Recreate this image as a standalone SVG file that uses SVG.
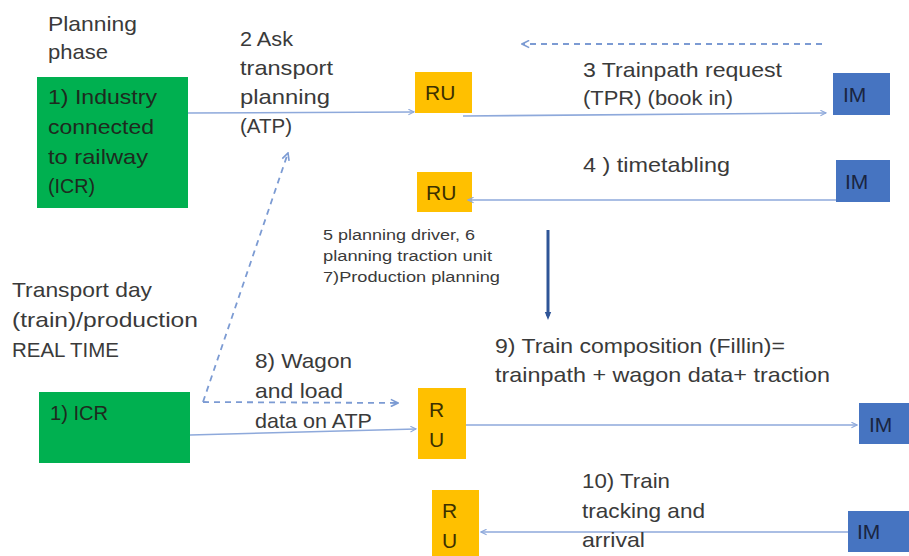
<svg xmlns="http://www.w3.org/2000/svg" width="909" height="556" viewBox="0 0 909 556">
  <defs>
    <style>
      text { font-family: "Liberation Sans", Arial, sans-serif; fill: #3a3a3a; }
      .lbl { font-size: 21px; }
      .sm { font-size: 15.5px; }
      .box-txt { font-size: 21px; fill: #1e2a1e; }
      .ru { fill: #FFC000; }
      .ru-txt { font-size: 21px; fill: #3d3000; }
      .im { fill: #4674C1; }
      .im-txt { font-size: 21px; fill: #1a2540; }
      .icr { fill: #00B050; }
      .flow { stroke: #8EA9DB; stroke-width: 1.6; fill: none; marker-end: url(#open); }
      .dash { stroke: #7C9BD3; stroke-width: 1.8; fill: none; stroke-dasharray: 6 5; }
    </style>
    <marker id="open" viewBox="0 0 10 10" refX="9" refY="5" markerWidth="7" markerHeight="7" orient="auto" markerUnits="userSpaceOnUse">
      <path d="M1 1 L9 5 L1 9" fill="none" stroke="#8EA9DB" stroke-width="1.6"/>
    </marker>
    <marker id="openDash" viewBox="0 0 10 10" refX="9" refY="5" markerWidth="9" markerHeight="9" orient="auto" markerUnits="userSpaceOnUse">
      <path d="M1 1 L9 5 L1 9" fill="none" stroke="#7C9BD3" stroke-width="1.8"/>
    </marker>
    <marker id="solid" viewBox="0 0 10 10" refX="5" refY="5" markerWidth="10" markerHeight="8" orient="auto" markerUnits="userSpaceOnUse">
      <path d="M0 1 L10 5 L0 9 Z" fill="#2F5597"/>
    </marker>
  </defs>

  <rect width="909" height="556" fill="#ffffff"/>

  <!-- phase headings -->
  <g id="heading-planning">
    <text class="lbl" x="48" y="31" textLength="89" lengthAdjust="spacingAndGlyphs">Planning</text>
    <text class="lbl" x="48" y="59" textLength="60" lengthAdjust="spacingAndGlyphs">phase</text>
  </g>
  <g id="heading-transport">
    <text class="lbl" x="12" y="297" textLength="140" lengthAdjust="spacingAndGlyphs">Transport day</text>
    <text class="lbl" x="12" y="327" textLength="186" lengthAdjust="spacingAndGlyphs">(train)/production</text>
    <text class="lbl" x="12" y="357" textLength="107" lengthAdjust="spacingAndGlyphs">REAL TIME</text>
  </g>

  <!-- nodes -->
  <g id="icr-planning">
    <rect class="icr" x="37" y="77" width="151" height="131"/>
    <text class="box-txt" x="48" y="104" textLength="109" lengthAdjust="spacingAndGlyphs">1) Industry</text>
    <text class="box-txt" x="48" y="134" textLength="106" lengthAdjust="spacingAndGlyphs">connected</text>
    <text class="box-txt" x="48" y="164" textLength="100" lengthAdjust="spacingAndGlyphs">to railway</text>
    <text class="box-txt" x="48" y="193" textLength="47" lengthAdjust="spacingAndGlyphs">(ICR)</text>
  </g>
  <g id="icr-transport">
    <rect class="icr" x="39" y="392" width="151" height="71"/>
    <text class="box-txt" x="50" y="420" textLength="58" lengthAdjust="spacingAndGlyphs">1) ICR</text>
  </g>

  <g id="ru-1">
    <rect class="ru" x="415" y="72" width="57" height="41"/>
    <text class="ru-txt" x="425" y="100">RU</text>
  </g>
  <g id="ru-2">
    <rect class="ru" x="417" y="172" width="55" height="40"/>
    <text class="ru-txt" x="426" y="200">RU</text>
  </g>
  <g id="ru-3">
    <rect class="ru" x="418" y="388" width="48" height="71"/>
    <text class="ru-txt" x="429" y="417">R</text>
    <text class="ru-txt" x="429" y="447">U</text>
  </g>
  <g id="ru-4">
    <rect class="ru" x="432" y="490" width="47" height="70"/>
    <text class="ru-txt" x="442" y="518">R</text>
    <text class="ru-txt" x="442" y="548">U</text>
  </g>

  <g id="im-1">
    <rect class="im" x="833" y="73" width="57" height="42"/>
    <text class="im-txt" x="843" y="102">IM</text>
  </g>
  <g id="im-2">
    <rect class="im" x="836" y="160" width="54" height="42"/>
    <text class="im-txt" x="845" y="189">IM</text>
  </g>
  <g id="im-3">
    <rect class="im" x="859" y="403" width="52" height="41"/>
    <text class="im-txt" x="869" y="432">IM</text>
  </g>
  <g id="im-4">
    <rect class="im" x="848" y="511" width="63" height="41"/>
    <text class="im-txt" x="857" y="539">IM</text>
  </g>

  <!-- connectors -->
  <g id="connectors">
    <line class="flow" x1="188" y1="113" x2="414" y2="112"/>
    <line class="flow" x1="463" y1="116" x2="826" y2="113"/>
    <line class="dash" x1="822" y1="44" x2="522" y2="44" marker-end="url(#openDash)"/>
    <line class="flow" x1="836" y1="200" x2="468" y2="200"/>
    <line x1="548" y1="230" x2="548" y2="316" stroke="#2F5597" stroke-width="3" marker-end="url(#solid)"/>
    <line class="dash" x1="203" y1="402" x2="288" y2="153" marker-end="url(#openDash)"/>
    <line class="dash" x1="203" y1="402" x2="398" y2="403" marker-end="url(#openDash)"/>
    <line class="flow" x1="190" y1="435" x2="416" y2="429"/>
    <line class="flow" x1="466" y1="425" x2="857" y2="425"/>
    <line class="flow" x1="848" y1="532" x2="481" y2="532"/>
  </g>

  <!-- connector labels -->
  <g id="label-atp">
    <text class="lbl" x="240" y="46" textLength="53" lengthAdjust="spacingAndGlyphs">2 Ask</text>
    <text class="lbl" x="240" y="75" textLength="93" lengthAdjust="spacingAndGlyphs">transport</text>
    <text class="lbl" x="240" y="104" textLength="90" lengthAdjust="spacingAndGlyphs">planning</text>
    <text class="lbl" x="240" y="133" textLength="52" lengthAdjust="spacingAndGlyphs">(ATP)</text>
  </g>
  <g id="label-tpr">
    <text class="lbl" x="583" y="77" textLength="199" lengthAdjust="spacingAndGlyphs">3 Trainpath request</text>
    <text class="lbl" x="583" y="105" textLength="150" lengthAdjust="spacingAndGlyphs">(TPR) (book in)</text>
  </g>
  <g id="label-timetabling">
    <text class="lbl" x="583" y="172" textLength="147" lengthAdjust="spacingAndGlyphs">4 ) timetabling</text>
  </g>
  <g id="label-planning-steps">
    <text class="sm" x="323" y="240" textLength="152" lengthAdjust="spacingAndGlyphs">5 planning driver, 6</text>
    <text class="sm" x="323" y="261" textLength="169" lengthAdjust="spacingAndGlyphs">planning traction unit</text>
    <text class="sm" x="323" y="282" textLength="177" lengthAdjust="spacingAndGlyphs">7)Production planning</text>
  </g>
  <g id="label-wagon">
    <text class="lbl" x="255" y="368" textLength="97" lengthAdjust="spacingAndGlyphs">8) Wagon</text>
    <text class="lbl" x="255" y="398" textLength="88" lengthAdjust="spacingAndGlyphs">and load</text>
    <text class="lbl" x="255" y="428" textLength="117" lengthAdjust="spacingAndGlyphs">data on ATP</text>
  </g>
  <g id="label-composition">
    <text class="lbl" x="495" y="353" textLength="290" lengthAdjust="spacingAndGlyphs">9) Train composition (Fillin)=</text>
    <text class="lbl" x="495" y="382" textLength="335" lengthAdjust="spacingAndGlyphs">trainpath + wagon data+ traction</text>
  </g>
  <g id="label-tracking">
    <text class="lbl" x="582" y="488" textLength="88" lengthAdjust="spacingAndGlyphs">10) Train</text>
    <text class="lbl" x="582" y="518" textLength="123" lengthAdjust="spacingAndGlyphs">tracking and</text>
    <text class="lbl" x="582" y="547" textLength="63" lengthAdjust="spacingAndGlyphs">arrival</text>
  </g>
</svg>
